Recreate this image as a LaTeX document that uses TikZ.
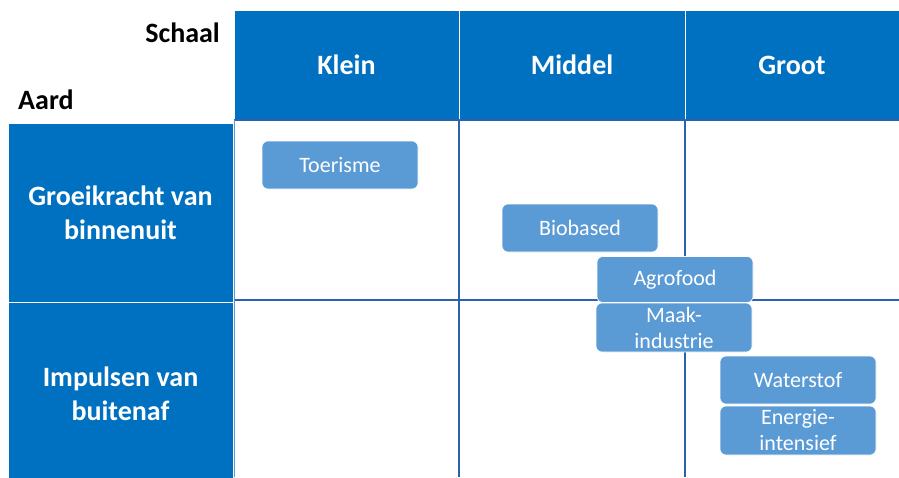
\documentclass[tikz,border=0pt]{standalone}
\usepackage{fontspec}
\setmainfont{Carlito}
\definecolor{kopblauw}{HTML}{0070C0}
\definecolor{vakblauw}{HTML}{5B9BD5}
\definecolor{lijnblauw}{HTML}{2A62AE}

\begin{document}
\begin{tikzpicture}[x=1pt,y=-1pt,
    kopcel/.style={fill=kopblauw, draw=white, line width=1pt, inner sep=0pt,
      text=white, align=center, font=\fontsize{28}{34}\selectfont\bfseries},
    aslabel/.style={inner sep=0pt, font=\fontsize{28}{34}\selectfont\bfseries},
    vak/.style={draw=white, line width=0.6pt, fill=vakblauw, rounded corners=6pt,
      minimum width=156pt, minimum height=48pt, inner sep=0pt, text=white,
      align=center, font=\fontsize{22}{26}\selectfont},
    raster/.style={lijnblauw, line width=1.4pt}]
  \useasboundingbox (0,0) rectangle (899,477);

  % assen
  \node[aslabel, anchor=east] (schaal) at (220,33) {Schaal};
  \node[aslabel, anchor=west] (aard) at (18,100) {Aard};

  % kolomkoppen
  \node[kopcel, minimum width=225pt, minimum height=110pt] (klein) at (346.5,65) {Klein};
  \node[kopcel, minimum width=226pt, minimum height=110pt] (middel) at (572,65) {Middel};
  \node[kopcel, minimum width=214pt, minimum height=110pt] (groot) at (792,65) {Groot};

  % rijkoppen
  \node[kopcel, minimum width=225pt, minimum height=179pt] (binnen) at (120.5,212.5) {Groeikracht van\\binnenuit};
  \node[kopcel, minimum width=225pt, minimum height=184pt] (buiten) at (120.5,394) {Impulsen van\\buitenaf};

  % raster
  \draw[raster] (234,120) -- (899,120);
  \draw[raster] (234,300) -- (899,300);
  \draw[raster] (459,120) -- (459,477);
  \draw[raster] (685,120) -- (685,477);
  \draw[vakblauw, line width=1pt] (234.5,120) -- (234.5,477);

  % sectoren
  \node[vak] (toerisme) at (340,165) {Toerisme};
  \node[vak] (biobased) at (580,228) {Biobased};
  \node[vak, minimum height=46pt] (agrofood) at (675,279.5) {Agrofood};
  \node[vak, minimum height=49pt] (maak) at (674,327.5) {Maak-\\industrie};
  \node[vak] (waterstof) at (798,380) {Waterstof};
  \node[vak, minimum height=49pt] (energie) at (798,430.5) {Energie-\\intensief};
\end{tikzpicture}
\end{document}
